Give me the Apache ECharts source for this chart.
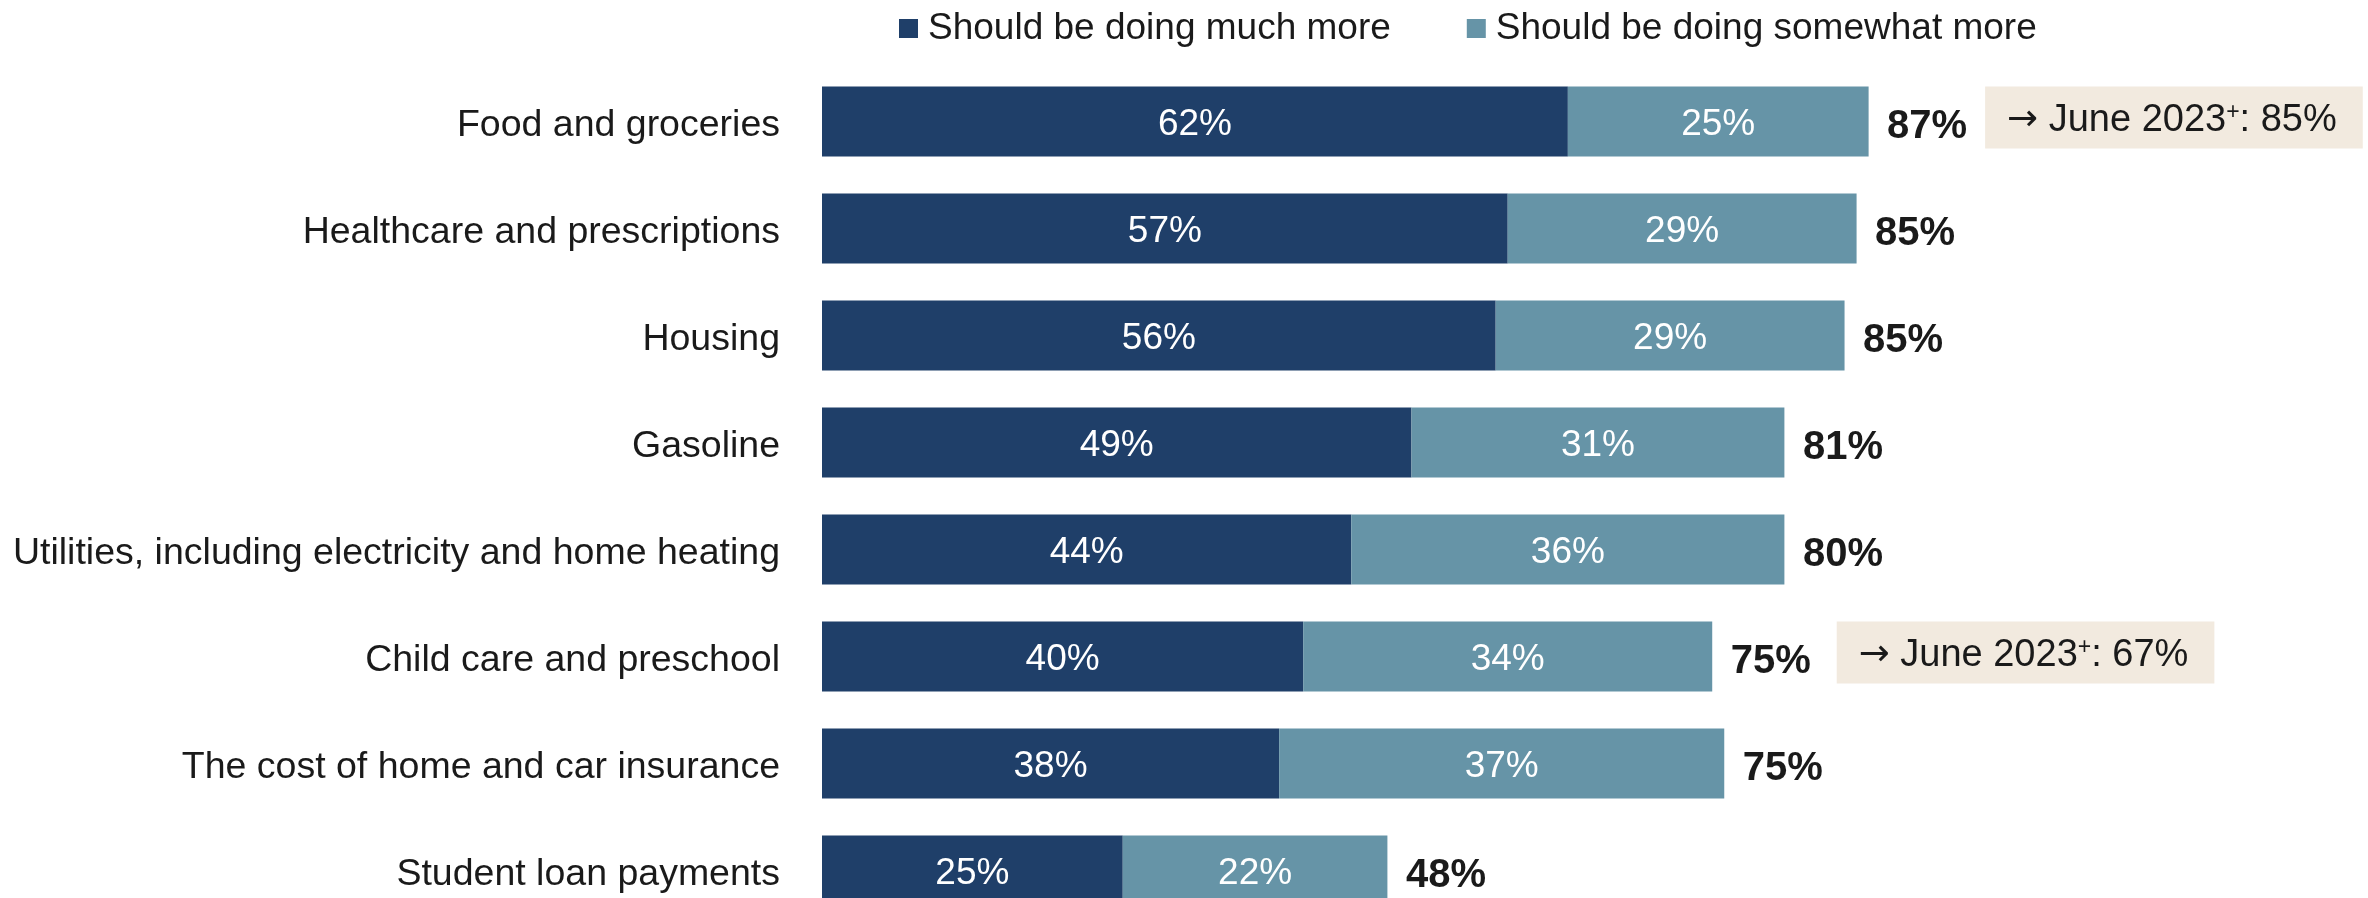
<!DOCTYPE html>
<html>
<head>
<meta charset="utf-8">
<script src="https://cdn.jsdelivr.net/npm/echarts@6/dist/echarts.min.js"></script>
<style>
html,body{margin:0;padding:0;background:#fff;}
#chart{width:2368px;height:898px;}
</style>
</head>
<body>
<div id="chart"></div>
<script>
const categories = [
  'Food and groceries',
  'Healthcare and prescriptions',
  'Housing',
  'Gasoline',
  'Utilities, including electricity and home heating',
  'Child care and preschool',
  'The cost of home and car insurance',
  'Student loan payments'
];
const seriesNames = ['Should be doing much more', 'Should be doing somewhat more'];
const muchMore = [62, 57, 56, 49, 44, 40, 38, 25];
const somewhatMore = [25, 29, 29, 31, 36, 34, 37, 22];
const totalLabels = [87, 85, 85, 81, 80, 75, 75, 48];
const june2023 = [85, null, null, null, null, 67, null, null];

const FONT = '"Liberation Sans", Arial, sans-serif';
const DARK = '#1F3F69';
const LIGHT = '#6694A7';
const TEXT = '#1a1a1a';

const chart = echarts.init(document.getElementById('chart'), null, {renderer: 'canvas'});

const totalsData = categories.map((c, i) => [muchMore[i] + somewhatMore[i], i]);
const notesData = [];
categories.forEach((c, i) => {
  if (june2023[i] != null) {
    notesData.push({
      value: [muchMore[i] + somewhatMore[i], i],
      note: june2023[i],
      label: {distance: i === 0 ? 116 : 124}
    });
  }
});

const option = {
  backgroundColor: '#ffffff',
  animation: false,
  textStyle: {fontFamily: FONT},
  legend: {
    data: seriesNames,
    left: 894,
    top: 5,
    itemWidth: 19,
    itemHeight: 19,
    itemGap: 76,
    icon: 'rect',
    selectedMode: false,
    textStyle: {fontSize: 37, color: TEXT, fontFamily: FONT, lineHeight: 37, padding: [0, 0, 0, 5]}
  },
  grid: {left: 822, top: 68, width: 1203, height: 856, containLabel: false, outerBoundsMode: 'none'},
  xAxis: {type: 'value', min: 0, max: 100, show: false},
  yAxis: {
    type: 'category',
    data: categories,
    inverse: true,
    axisLine: {show: false},
    axisTick: {show: false},
    splitLine: {show: false},
    axisLabel: {
      margin: 42,
      formatter: v => '{c|' + v + '}',
      rich: {c: {fontSize: 37.5, color: TEXT, fontFamily: FONT, lineHeight: 40, padding: [8, 0, 0, 0]}}
    }
  },
  series: [
    {
      name: seriesNames[0],
      type: 'bar',
      stack: 'total',
      barWidth: 70,
      data: muchMore,
      itemStyle: {color: DARK},
      label: {show: true, position: 'inside', offset: [0, 3], color: '#fff', fontSize: 37, fontFamily: FONT, formatter: p => p.value + '%'},
      silent: true
    },
    {
      name: seriesNames[1],
      type: 'bar',
      stack: 'total',
      barWidth: 70,
      data: somewhatMore,
      itemStyle: {color: LIGHT},
      label: {show: true, position: 'inside', offset: [0, 3], color: '#fff', fontSize: 37, fontFamily: FONT, formatter: p => p.value + '%'},
      silent: true
    },
    {
      name: 'totals',
      type: 'scatter',
      data: totalsData,
      symbolSize: 1,
      itemStyle: {color: 'rgba(0,0,0,0)', opacity: 1},
      silent: true,
      z: 5,
      label: {
        show: true,
        position: 'right',
        distance: 18,
        offset: [0, 5],
        fontSize: 40,
        fontWeight: 'bold',
        color: TEXT,
        fontFamily: FONT,
        formatter: p => totalLabels[p.dataIndex] + '%'
      }
    },
    {
      name: 'notes',
      type: 'scatter',
      data: notesData,
      symbolSize: 1,
      itemStyle: {color: 'rgba(0,0,0,0)', opacity: 1},
      silent: true,
      z: 5,
      label: {
        show: true,
        position: 'right',
        offset: [0, -4],
        backgroundColor: '#F2EADF',
        padding: [15, 26, 9, 22],
        color: TEXT,
        fontFamily: FONT,
        fontSize: 38,
        formatter: p => '{arr|\u2192}{a| June 2023}{s|+}{a|: ' + p.data.note + '%}',
        rich: {
          arr: {fontSize: 37, color: TEXT, fontFamily: '"DejaVu Sans", sans-serif', lineHeight: 38},
          a: {fontSize: 38, color: TEXT, fontFamily: FONT, lineHeight: 38},
          s: {fontSize: 23, color: TEXT, fontFamily: FONT, verticalAlign: 'top', lineHeight: 22}
        }
      }
    }
  ]
};
chart.setOption(option);
</script>
</body>
</html>
